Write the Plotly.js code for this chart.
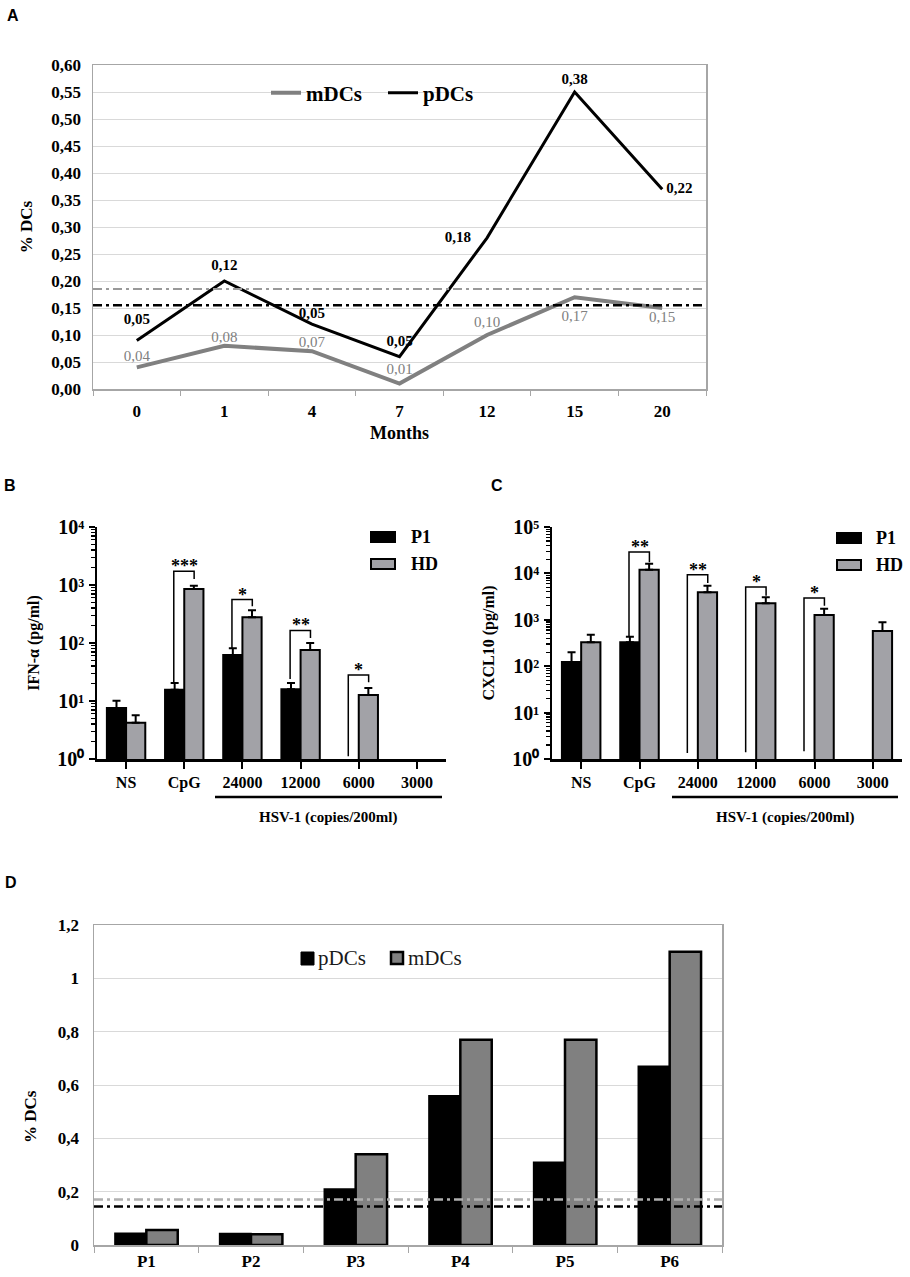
<!DOCTYPE html>
<html><head><meta charset="utf-8">
<script src="https://cdn.plot.ly/plotly-3.0.1.min.js"></script>
<style>html,body{margin:0;padding:0;background:#fff}#chart{width:910px;height:1277px}</style>
</head><body><div id="chart"></div>
<script>
// ---------- Panel A ----------
const monthsA = ['0','1','4','7','12','15','20'];
const mdcA = [0.04,0.08,0.07,0.01,0.10,0.17,0.15];
const pdcA = [0.05,0.12,0.05,0.05,0.18,0.38,0.22];   // stacked on mDCs
const refA = [0.185, 0.155];                           // HD mDC, HD pDC
const mdcApos = ['top center','top center','top center','top center','top center','bottom center','bottom center'];
const pdcApos = ['top center','top center','top center','top center','middle left','top center','middle right'];
const mdcAoff = [2,0,0,8,5,19,2];      // label spacing (invisible marker size)
const pdcAoff = [18,10,3,10,24,5,5];
// ---------- Panel B / C ----------
const stimCats = ['NS','CpG','24000','12000','6000','3000'];
const logTickText = ['10⁰','10¹','10²','10³','10⁴','10⁵'];
const ifnP1 = [7.6,15.7,62,16,null,null];
const ifnP1Err = [2.5,4.7,19,4.4,null,null];
const ifnHD = [4.2,851,277,76,12.7,null];
const ifnHDErr = [1.5,120,89,24,4,null];
const sigBIdx = [1,2,3,4];
const sigBText = ['***','*','**','*'];
const sigBLeft = [20.4,81,24,1.12];
const sigBTop = [1720,560,165,28];
const sigBRight = [1270,430,122,21];

const cxP1 = [123,327,null,null,null,null];
const cxP1Err = [76,106,null,null,null,null];
const cxHD = [327,12000,3900,2260,1270,574];
const cxHDErr = [151,4200,1540,790,470,308];
const sigCIdx = [1,2,3,4];
const sigCText = ['**','**','*','*'];
const sigCLeft = [433,1.35,1.39,1.46];
const sigCTop = [28900,9400,5090,2950];
const sigCRight = [17300,6210,3310,2017];
// ---------- Panel D ----------
const patients = ['P1','P2','P3','P4','P5','P6'];
const pdcD = [0.044,0.043,0.21,0.56,0.31,0.67];
const mdcD = [0.056,0.040,0.34,0.77,0.77,1.10];
const refD = [0.171, 0.144];

const SERIF = 'Liberation Serif, Times New Roman, serif';
const SANS = 'Liberation Sans, Arial, sans-serif';
const fmt = v => v.toFixed(2).replace('.', ',');
const W = 910, H = 1277;
const px = v => v / W, py = v => 1 - v / H;
const idx = stimCats.map((c, i) => i);

// plotly's default "power" labels -> unicode superscripts
const alias = {'1':logTickText[0], '10':logTickText[1]};
for (let p = 2; p <= 5; p++) alias['10<sup>' + p + '</sup>'] = logTickText[p];

function bracket(ids, left, top, right) {
  const x = [], y = [];
  ids.forEach((c, k) => {
    x.push(c - 0.18, c - 0.18, c + 0.17, c + 0.17, null);
    y.push(left[k], top[k], top[k], right[k], null);
  });
  return {x, y};
}
const bB = bracket(sigBIdx, sigBLeft, sigBTop, sigBRight);
const bC = bracket(sigCIdx, sigCLeft, sigCTop, sigCRight);
const errOpt = arr => ({type:'data', symmetric:false, array:arr, arrayminus:arr.map(()=>0), color:'#000', thickness:2, width:4});
const ghost = sizes => ({size:sizes, color:'rgba(0,0,0,0)', line:{width:0}});

const data = [
  // A
  {type:'scatter', mode:'lines+markers+text', name:'mDCs', x:monthsA, y:mdcA, stackgroup:'a', fill:'none',
   line:{color:'#808080', width:4}, marker:ghost(mdcAoff), text:mdcA.map(fmt), textposition:mdcApos, cliponaxis:false,
   textfont:{family:SERIF, size:15, color:'#808080'}, xaxis:'x', yaxis:'y', hoverinfo:'skip'},
  {type:'scatter', mode:'lines+markers+text', name:'pDCs', x:monthsA, y:pdcA, stackgroup:'a', fill:'none',
   line:{color:'#000', width:3}, marker:ghost(pdcAoff), text:pdcA.map(fmt), textposition:pdcApos, cliponaxis:false,
   textfont:{family:SERIF, size:15, color:'#000', weight:700}, xaxis:'x', yaxis:'y', hoverinfo:'skip'},
  // B
  {type:'bar', name:'P1', x:idx, y:ifnP1, width:0.33, offset:-0.33, marker:{color:'#000', line:{color:'#000', width:2}},
   error_y:errOpt(ifnP1Err), xaxis:'x2', yaxis:'y2', showlegend:false},
  {type:'bar', name:'HD', x:idx, y:ifnHD, width:0.33, offset:0, marker:{color:'#a2a2a7', line:{color:'#000', width:2}},
   error_y:errOpt(ifnHDErr), xaxis:'x2', yaxis:'y2', showlegend:false},
  {type:'scatter', mode:'lines', x:bB.x, y:bB.y, line:{color:'#000', width:1.5}, xaxis:'x2', yaxis:'y2', showlegend:false, hoverinfo:'skip', connectgaps:false},
  // C
  {type:'bar', name:'P1', x:idx, y:cxP1, width:0.33, offset:-0.33, marker:{color:'#000', line:{color:'#000', width:2}},
   error_y:errOpt(cxP1Err), xaxis:'x3', yaxis:'y3', showlegend:false},
  {type:'bar', name:'HD', x:idx, y:cxHD, width:0.33, offset:0, marker:{color:'#a2a2a7', line:{color:'#000', width:2}},
   error_y:errOpt(cxHDErr), xaxis:'x3', yaxis:'y3', showlegend:false},
  {type:'scatter', mode:'lines', x:bC.x, y:bC.y, line:{color:'#000', width:1.5}, xaxis:'x3', yaxis:'y3', showlegend:false, hoverinfo:'skip', connectgaps:false},
  // D
  {type:'bar', name:'pDCs', x:patients, y:pdcD, width:0.3, offset:-0.3, marker:{color:'#000', line:{color:'#000', width:1.5}},
   xaxis:'x4', yaxis:'y4', showlegend:false},
  {type:'bar', name:'mDCs', x:patients, y:mdcD, width:0.3, offset:0, marker:{color:'#808080', line:{color:'#000', width:2.5}},
   xaxis:'x4', yaxis:'y4', showlegend:false}
];

const tf = (s, bold=true) => ({family:SERIF, size:s, color:'#000', weight: bold?700:400});
const dashDot = '9px,4px,3px,4px';

const shapes = [
  {type:'line', xref:'x domain', yref:'y', x0:0, x1:1, y0:refA[0], y1:refA[0], line:{color:'#999999', width:2, dash:dashDot}},
  {type:'line', xref:'x domain', yref:'y', x0:0, x1:1, y0:refA[1], y1:refA[1], line:{color:'#000', width:2.5, dash:dashDot}},
  {type:'line', xref:'x4 domain', yref:'y4', x0:0, x1:1, y0:refD[0], y1:refD[0], line:{color:'#b0b0b0', width:2.5, dash:dashDot}},
  {type:'line', xref:'x4 domain', yref:'y4', x0:0, x1:1, y0:refD[1], y1:refD[1], line:{color:'#000', width:2.5, dash:dashDot}},
  // HSV-1 bars
  {type:'line', xref:'paper', yref:'paper', x0:px(215), x1:px(442), y0:py(797), y1:py(797), line:{color:'#000', width:2.5}},
  {type:'line', xref:'paper', yref:'paper', x0:px(672), x1:px(898), y0:py(797), y1:py(797), line:{color:'#000', width:2.5}},
  // B legend
  {type:'rect', xref:'paper', yref:'paper', x0:px(371), x1:px(395), y0:py(542), y1:py(532), fillcolor:'#000', line:{color:'#000', width:2}},
  {type:'rect', xref:'paper', yref:'paper', x0:px(371), x1:px(395), y0:py(569), y1:py(559), fillcolor:'#a2a2a7', line:{color:'#000', width:2}},
  // C legend
  {type:'rect', xref:'paper', yref:'paper', x0:px(837), x1:px(861), y0:py(543), y1:py(533), fillcolor:'#000', line:{color:'#000', width:2}},
  {type:'rect', xref:'paper', yref:'paper', x0:px(837), x1:px(861), y0:py(570), y1:py(560), fillcolor:'#a2a2a7', line:{color:'#000', width:2}},
  // D legend
  {type:'rect', xref:'paper', yref:'paper', x0:px(301), x1:px(314), y0:py(965), y1:py(952), fillcolor:'#000', line:{color:'#000', width:1}},
  {type:'rect', xref:'paper', yref:'paper', x0:px(391), x1:px(403), y0:py(964), y1:py(952), fillcolor:'#808080', line:{color:'#000', width:2.5}}
];

const ann = [];
const lbl = (t, x, y) => ann.push({text:t, xref:'paper', yref:'paper', x:px(x), y:py(y), xanchor:'center', yanchor:'middle', showarrow:false, font:{family:SANS, size:16, color:'#000', weight:700}});
lbl('A', 13, 15); lbl('B', 10, 485); lbl('C', 497, 485); lbl('D', 11, 882);
const txt = (t, x, y, size, bold, xa='left', color='#000', angle=0) => ann.push({text:t, xref:'paper', yref:'paper', x:px(x), y:py(y), xanchor:xa, yanchor:'middle', textangle:angle, showarrow:false, font:{family:SERIF, size:size, color:color, weight:bold?700:400}});
txt('P1', 409, 537, 18, true); txt('HD', 409, 564, 18, true);
txt('P1', 874, 538, 18, true); txt('HD', 874, 565, 18, true);
txt('HSV-1 (copies/200ml)', 328, 817, 15, true, 'center');
txt('HSV-1 (copies/200ml)', 785, 817, 15, true, 'center');
txt('pDCs', 316, 958, 21, false, 'left', '#1a1a1a');
txt('mDCs', 406, 958, 21, false, 'left', '#1a1a1a');
txt('% DCs', 30, 1117, 17, true, 'center', '#000', -90);
sigBIdx.forEach((c,k)=>ann.push({text:sigBText[k], xref:'x2', yref:'y2', x:c, y:Math.log10(sigBTop[k]), yanchor:'middle', yshift:5, showarrow:false, font:{family:SERIF, size:18, color:'#000', weight:700}}));
sigCIdx.forEach((c,k)=>ann.push({text:sigCText[k], xref:'x3', yref:'y3', x:c, y:Math.log10(sigCTop[k]), yanchor:'middle', yshift:5, showarrow:false, font:{family:SERIF, size:18, color:'#000', weight:700}}));

const logAxis = (dom, rng, title, anchor) => ({
  domain:dom, anchor:anchor, type:'log', range:rng, dtick:1, exponentformat:'power', labelalias:alias,
  showline:true, linecolor:'#000', linewidth:2.5, ticks:'outside', ticklen:6, tickwidth:2, tickcolor:'#000',
  minor:{ticks:'outside', ticklen:3.5, tickwidth:1.2, tickcolor:'#000', dtick:'D1'},
  showgrid:false, zeroline:false, tickfont:tf(16), ticklabelstandoff:1,
  title:{text:title, font:tf(16), standoff:14}
});
const catAxis = (dom, anchor) => ({
  domain:dom, anchor:anchor, range:[-0.5,5.5], tickvals:idx, ticktext:stimCats,
  showline:true, linecolor:'#000', linewidth:2.5, ticks:'outside', ticklen:7, tickwidth:2, tickcolor:'#000',
  showgrid:false, zeroline:false, tickfont:tf(16)
});

const layout = {
  width:W, height:H, margin:{l:0,r:0,t:0,b:0}, paper_bgcolor:'#fff', plot_bgcolor:'#fff',
  separators:', ', showlegend:true, barmode:'overlay',
  legend:{x:px(266), y:py(93), xanchor:'left', yanchor:'middle', orientation:'h', font:tf(21), bgcolor:'rgba(0,0,0,0)',
    tracegroupgap:0, itemwidth:30, entrywidth:72, entrywidthmode:'pixels'},
  xaxis:{domain:[px(93),px(706)], anchor:'y', type:'category', range:[-0.5,6.5],
    showline:true, linecolor:'#a6a6a6', linewidth:1.5, mirror:true, ticks:'outside', tickson:'boundaries', ticklen:5, tickcolor:'#a6a6a6',
    ticklabelstandoff:6, showgrid:false, tickfont:tf(17), title:{text:'Months', font:tf(18), standoff:6}},
  yaxis:{domain:[py(389),py(65)], anchor:'x', range:[0,0.6], dtick:0.05, tickformat:'.2f',
    showgrid:true, gridcolor:'#d9d9d9', gridwidth:1, showline:true, linecolor:'#a6a6a6', linewidth:1.5, mirror:true,
    zeroline:false, ticks:'', ticklabelstandoff:7, tickfont:tf(17), title:{text:'% DCs', font:tf(17), standoff:14}},
  xaxis2:catAxis([px(97),px(446)], 'y2'),
  yaxis2:logAxis([py(759),py(527)], [0,4], 'IFN-α (pg/ml)', 'x2'),
  xaxis3:catAxis([px(552),px(902)], 'y3'),
  yaxis3:logAxis([py(759),py(527)], [0,5], 'CXCL10 (pg/ml)', 'x3'),
  xaxis4:{domain:[px(94),px(722)], anchor:'y4', type:'category', range:[-0.5,5.5],
    showline:true, linecolor:'#a6a6a6', linewidth:1.5, mirror:true, ticks:'outside', tickson:'boundaries', ticklen:6, tickcolor:'#a6a6a6',
    showgrid:false, tickfont:tf(17)},
  yaxis4:{domain:[py(1245),py(925)], anchor:'x4', range:[0,1.2], dtick:0.2,
    showgrid:true, gridcolor:'#d9d9d9', gridwidth:1, showline:true, linecolor:'#a6a6a6', linewidth:1.5, mirror:true,
    zeroline:false, ticks:'', ticklabelstandoff:10, tickfont:tf(17)},
  shapes:shapes, annotations:ann
};
Plotly.newPlot('chart', data, layout, {displayModeBar:false, staticPlot:true});
</script></body></html>
